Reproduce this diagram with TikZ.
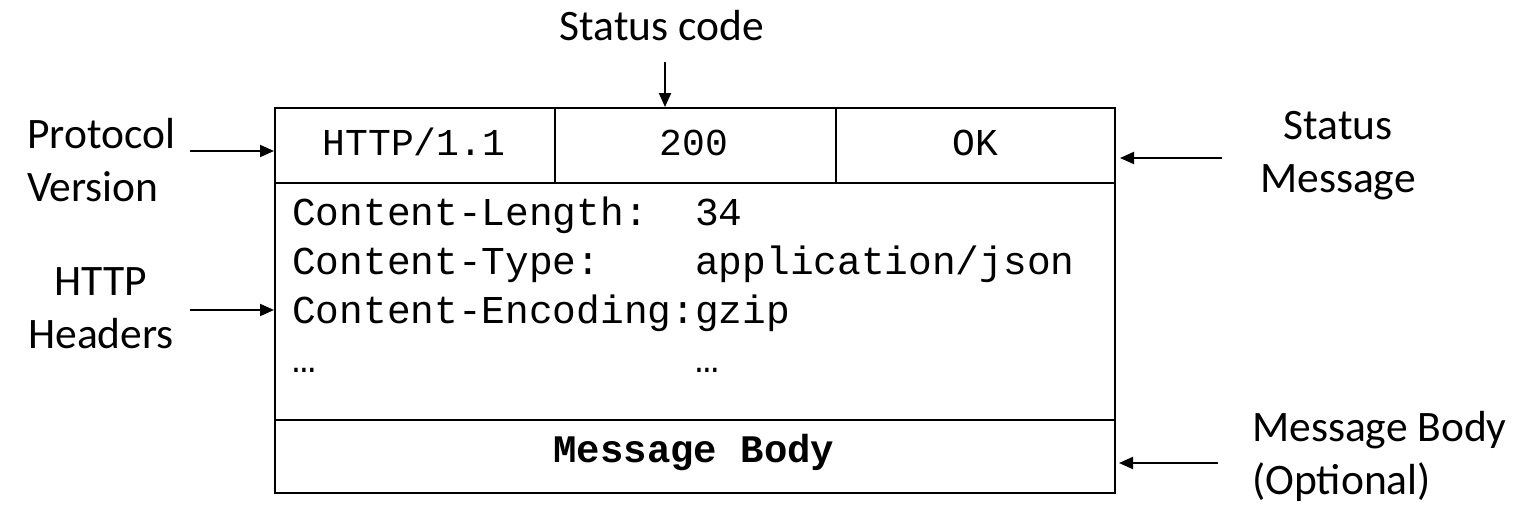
\documentclass[tikz,border=0pt]{standalone}
\usepackage{fontspec}
\setmainfont{Carlito}
\newfontfamily\monofont{Liberation Mono}
\usetikzlibrary{arrows.meta}
\begin{document}
\begin{tikzpicture}[x=1pt,y=-1pt,
  frame/.style={draw=black,line width=2pt,inner sep=0pt,anchor=north west},
  cell/.style={font=\monofont\fontsize{38}{38}\selectfont,anchor=base,inner sep=0pt},
  hdr/.style={anchor=base west,inner sep=0pt,font=\monofont\fontsize{39.5}{40}\selectfont},
  lbl/.style={font=\fontsize{43.5}{53}\selectfont,inner sep=0pt},
  ptr/.style={line width=2pt,-{Triangle[length=14pt,width=12pt]}}]
\useasboundingbox (0,0) rectangle (1528,530);

% message frame
\node[frame,minimum width=280,minimum height=75] (ver) at (274,107) {};
\node[frame,minimum width=281,minimum height=75] (code) at (554,107) {};
\node[frame,minimum width=279,minimum height=75] (msg) at (835,107) {};
\node[frame,minimum width=840,minimum height=237] (hdrs) at (274,182) {};
\node[frame,minimum width=840,minimum height=73] (body) at (274,419) {};

% status line
\node[cell] (tver) at (414,155) {HTTP/1.1};
\node[cell] (tcode) at (694,155) {200};
\node[cell] (tok) at (975,155) {OK};

% header fields
\node[hdr] (k1) at (292,225) {Content-Length:};
\node[hdr] (v1) at (695,225) {34};
\node[hdr] (k2) at (292,274) {Content-Type:};
\node[hdr] (v2) at (695,274) {application/json};
\node[hdr] (k3) at (292,323) {Content-Encoding:};
\node[hdr] (v3) at (695,323) {gzip};
\node[hdr] (k4) at (292,372) {…};
\node[hdr] (v4) at (695,372) {…};

% body
\node[anchor=base,inner sep=0pt,font=\monofont\bfseries\fontsize{39}{39}\selectfont] (tbody) at (694,462) {Message Body};

% labels
\node[lbl,anchor=base] (lsc) at (662,40) {Status code};
\node[lbl,align=left,anchor=west] (lpv) at (27,160) {Protocol\\Version};
\node[lbl,align=center] (lhh) at (101,308) {HTTP\\Headers};
\node[lbl,align=center] (lsm) at (1338,156) {Status\\Message};
\node[lbl,align=left,anchor=west] (lmb) at (1252,456) {Message Body\\(Optional)};

% pointers
\coordinate (sc) at (665,62);
\coordinate (pv) at (190,151);
\coordinate (hh) at (190,310);
\coordinate (sm) at (1222,158);
\coordinate (mb) at (1218,463);
\draw[ptr] (sc) -- (sc |- code.north);
\draw[ptr] (pv) -- (pv -| ver.west);
\draw[ptr] (hh) -- (hh -| hdrs.west);
\draw[ptr,shorten >=4pt] (sm) -- (sm -| msg.east);
\draw[ptr,shorten >=3pt] (mb) -- (mb -| body.east);
\end{tikzpicture}
\end{document}
